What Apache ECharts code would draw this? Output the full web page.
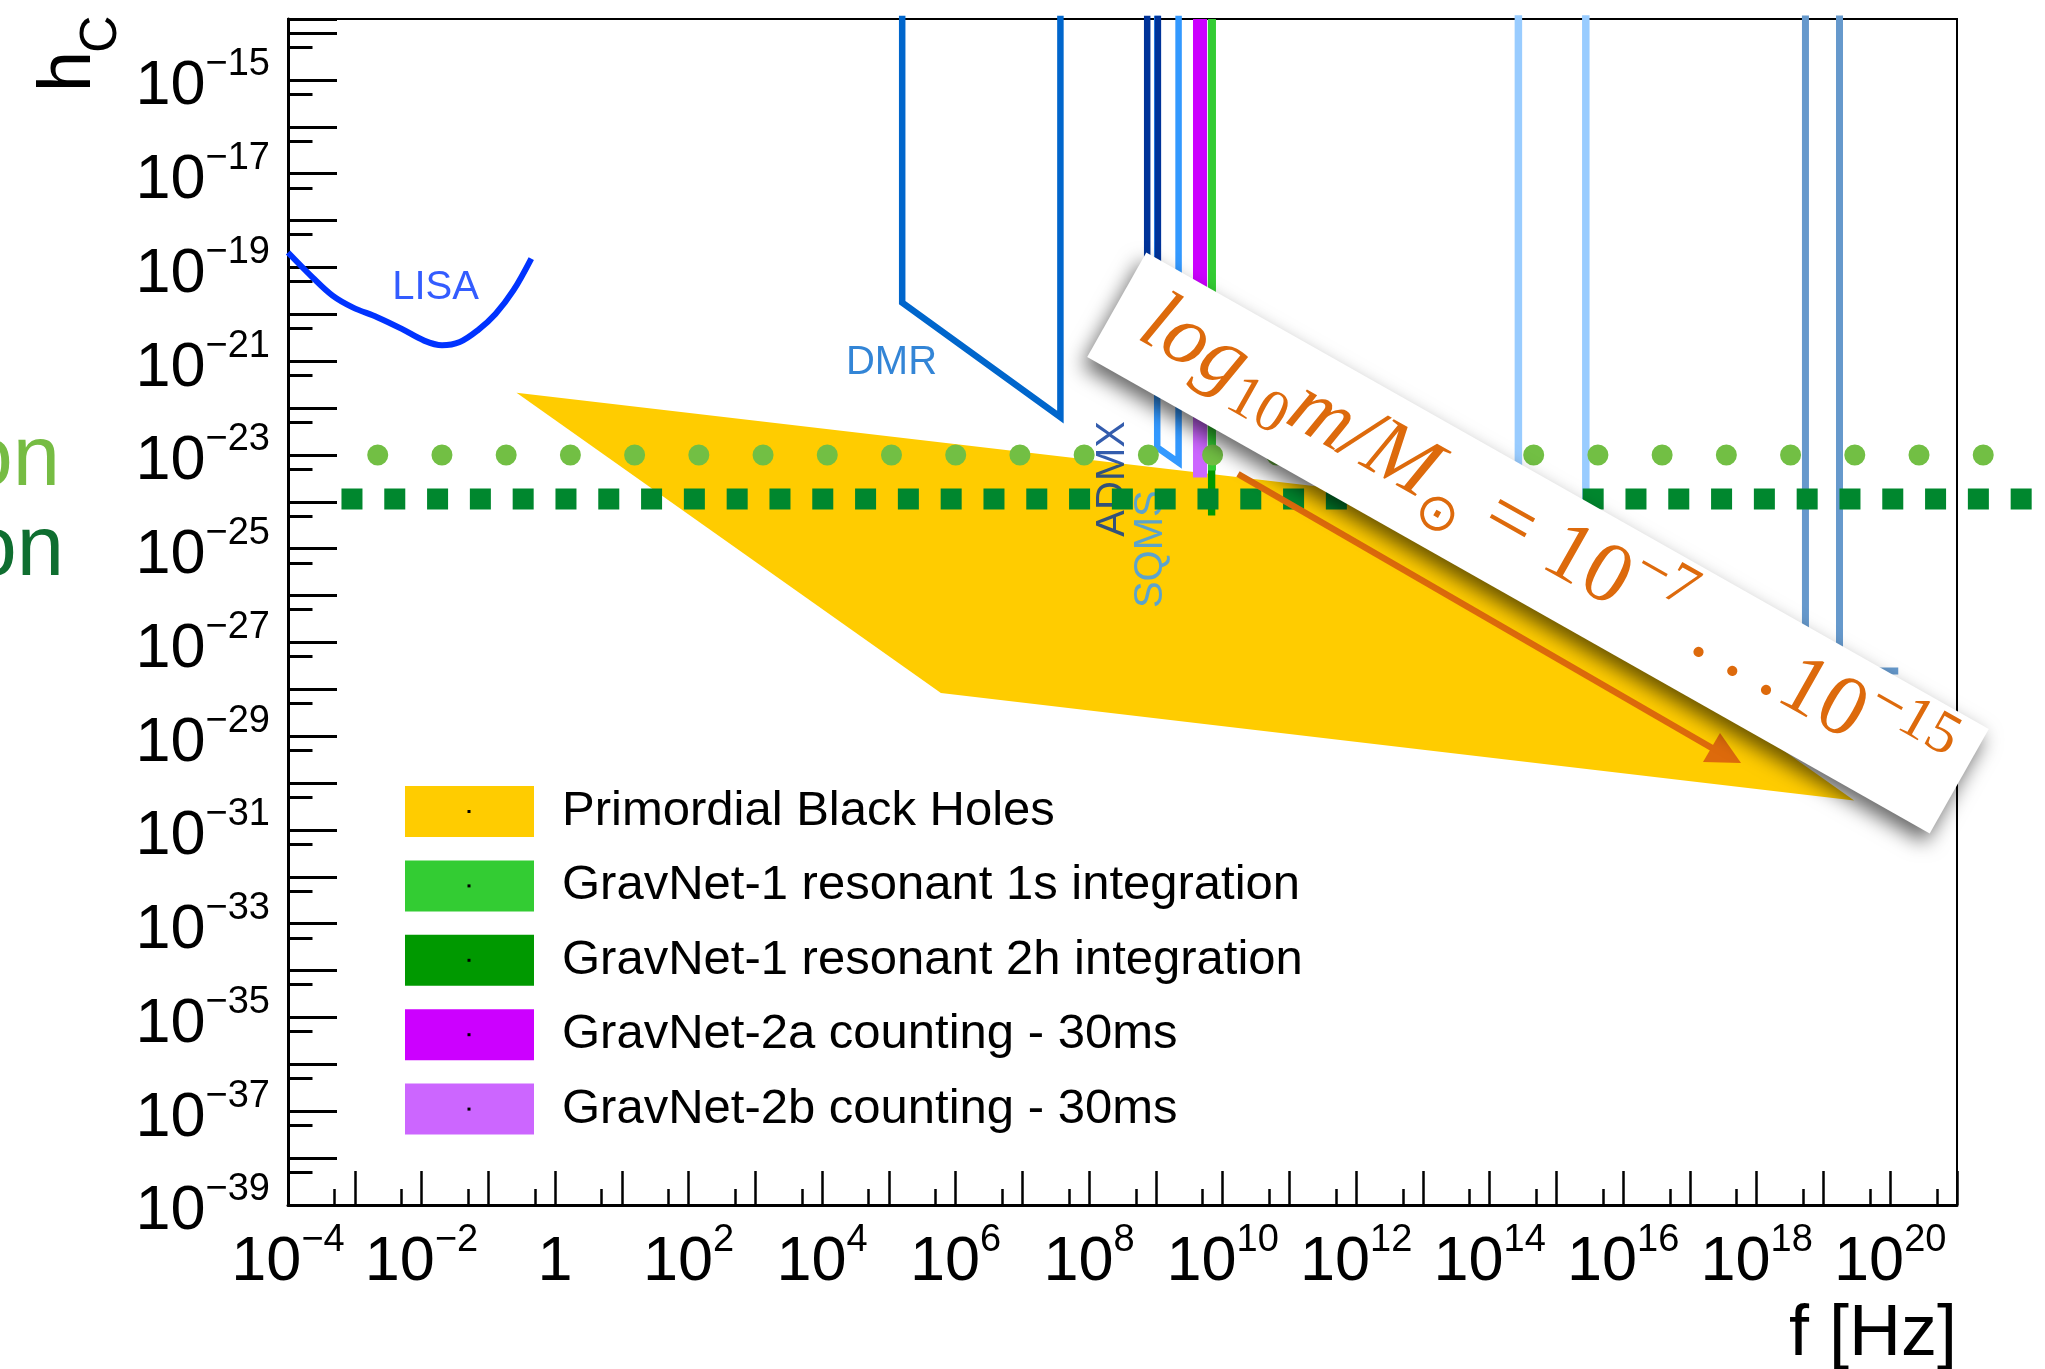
<!DOCTYPE html>
<html><head><meta charset="utf-8">
<script src="https://cdn.jsdelivr.net/npm/echarts@6/dist/echarts.min.js"></script>
<style>html,body{margin:0;padding:0;background:#fff}#c{width:2045px;height:1369px}</style>
</head><body><div id="c"></div>
<script>
// ---------- data (all values are log10 of the quantity) ----------
const xLog10Min = -4, xLog10Max = 21;                 // f [Hz]: 1e-4 .. 1e21
const yLog10Min = -39, yLog10Max = Math.log10(2e-14);  // h_c: 1e-39 .. 2e-14
const xTickLabelExponents = [-4,-2,0,2,4,6,8,10,12,14,16,18,20];
const yTickLabelExponents = [-39,-37,-35,-33,-31,-29,-27,-25,-23,-21,-19,-17,-15];

// LISA sensitivity curve
const lisaLog10F = [-4.0,-3.633,-3.332,-3.031,-2.664,-2.295,-1.961,-1.693,-1.427,-1.158,-0.892,-0.624,-0.356];
const lisaLog10H = [-18.68,-19.21,-19.60,-19.85,-20.06,-20.31,-20.56,-20.66,-20.59,-20.34,-19.99,-19.49,-18.81];
// DMR outline
const dmrLog10F = [5.20, 5.20, 7.57, 7.57];
const dmrLog10H = [-13.4, -19.75, -22.19, -13.4];
// SQMS outline
const sqmsLog10F = [9.02, 9.02, 9.34, 9.34];
const sqmsLog10H = [-13.4, -22.84, -23.16, -13.4];
// ADMX outline
const admxLog10F = [8.87, 8.87, 9.03, 9.03];
const admxLog10H = [-13.4, -20.8, -21.0, -13.4];
// light-blue outline (high frequency)
const lbLog10F = [14.43, 14.43, 15.44, 15.44];
const lbLog10H = [-13.4, -25.3, -25.3, -13.4];
// steel-blue outlines (very high frequency)
const sbLog10F = [18.73, 18.73, 20.12];
const sbLog10H = [-13.4, -27.61, -27.61];
const sb2Log10F = [19.24, 19.24];
const sb2Log10H = [-13.4, -27.61];
// Primordial black holes region
const pbhLog10F = [-0.577, 13.09, 19.46, 5.78];
const pbhLog10H = [-21.67, -23.95, -30.37, -28.08];
// GravNet bands: [fLow, fHigh, hBottom]
const gn1sBand = [9.78, 9.90, -23.33];
const gn2hBand = [9.78, 9.89, -24.29];
const gn2aBand = [9.556, 9.766, -22.0];
const gn2bBand = [9.556, 9.766, -23.48];
// horizontal sensitivity lines
const gn1sLineLog10F = [-2.656, 21.5];
const gn1sLineLog10H = [-23.0, -23.0];
const gn2hLineLog10F = [-3.199, 22.12];
const gn2hLineLog10H = [-23.94, -23.94];
// detector labels
const detLabels = ['LISA', 'DMR', 'ADMX', 'SQMS'];
const detLabelLog10F = [-1.79, 5.04, 8.36, 8.93];
const detLabelLog10H = [-19.43, -21.04, -23.51, -25.01];

const legendNames = ['Primordial Black Holes','GravNet-1 resonant 1s integration','GravNet-1 resonant 2h integration','GravNet-2a counting - 30ms','GravNet-2b counting - 30ms'];

// ---------- chart ----------
const FONT = 'Liberation Sans';
const chart = echarts.init(document.getElementById('c'), null, {renderer: 'canvas', width: 2045, height: 1369});

const rich = {
  b: {fontFamily: FONT, fontSize: 63, lineHeight: 63, padding: [14,0,0,0], verticalAlign: 'middle', color: '#000'},
  s: {fontFamily: FONT, fontSize: 38, lineHeight: 38, padding: [0,0,30,0], verticalAlign: 'middle', color: '#000'}
};
function powLabel(v, list) {
  const n = Math.round(v);
  if (Math.abs(v - n) > 1e-6 || list.indexOf(n) < 0) return '';
  if (n === 0) return '{b|1}';
  return '{b|10}{s|' + (n < 0 ? '\u2212' : '') + Math.abs(n) + '}';
}

function outline(name, fx, hy, color, width, z) {
  return {type: 'line', name: name, data: fx.map((f, i) => [f, hy[i]]), symbol: 'none', showSymbol: false,
    lineStyle: {color: color, width: width, join: 'miter'}, silent: true, z: z || 2, clip: true};
}
function band(name, b, color, z) {
  return {type: 'custom', name: name, coordinateSystem: 'cartesian2d', clip: true, silent: true, z: z,
    itemStyle: {color: color}, encode: {x: [0, 1], y: 2}, data: [b],
    renderItem: function (params, api) {
      const p1 = api.coord([api.value(0), yLog10Max]);
      const p2 = api.coord([api.value(1), api.value(2)]);
      return {type: 'rect', shape: {x: p1[0], y: p1[1], width: p2[0] - p1[0], height: p2[1] - p1[1]}, style: {fill: api.visual('color')}};
    }};
}
function sensLine(name, fx, hy, color, dash, cap) {
  return {type: 'custom', name: name, coordinateSystem: 'cartesian2d', clip: false, silent: true, z: 5,
    data: [[fx[0], hy[0]]],
    renderItem: function (params, api) {
      const pts = fx.map((f, i) => api.coord([f, hy[i]]));
      return {type: 'polyline', shape: {points: pts},
        style: {stroke: color, lineWidth: 21, lineDash: dash, lineCap: cap, fill: null}};
    }};
}

const series = [
  {type: 'custom', name: legendNames[0], coordinateSystem: 'cartesian2d', silent: true, z: 1,
   itemStyle: {color: '#ffcc00'}, data: pbhLog10F.map((f, i) => [f, pbhLog10H[i]]),
   renderItem: function (params, api) {
     if (params.dataIndex !== 0) return null;
     const pts = pbhLog10F.map((f, i) => api.coord([f, pbhLog10H[i]]));
     return {type: 'polygon', shape: {points: pts}, style: {fill: api.visual('color')}};
   }},
  Object.assign(outline('LISA', lisaLog10F, lisaLog10H, '#0033ff', 6), {smooth: 0.35}),
  outline('DMR', dmrLog10F, dmrLog10H, '#0066cc', 6.5),
  outline('SQMS', sqmsLog10F, sqmsLog10H, '#3399ff', 6.5),
  outline('ADMX', admxLog10F, admxLog10H, '#003399', 6.5),
  outline('HF1', lbLog10F, lbLog10H, '#99ccff', 7.5),
  outline('HF2', sbLog10F, sbLog10H, '#6699cc', 7),
  outline('HF3', sb2Log10F, sb2Log10H, '#6699cc', 7),
  band(legendNames[2], gn2hBand, '#009900', 3),
  band(legendNames[1], gn1sBand, '#33cc33', 3),
  band(legendNames[4], gn2bBand, '#cc66ff', 3),
  band(legendNames[3], gn2aBand, '#cc00ff', 3),
  {type: 'scatter', name: 'labels', silent: true, z: 4, symbolSize: 1, itemStyle: {color: 'rgba(0,0,0,0)'},
   data: detLabels.map((t, i) => ({value: [detLabelLog10F[i], detLabelLog10H[i]],
     label: {show: true, position: 'inside', formatter: t, fontFamily: FONT, fontSize: 40,
       color: ['#0033ff', '#0066cc', '#003399', '#3399ff'][i], rotate: (t === 'ADMX' || t === 'SQMS') ? 90 : 0}}))},
  sensLine('GravNet-1 1s line', gn1sLineLog10F, gn1sLineLog10H, '#72bf44', [0.01, 64.21], 'round'),
  sensLine('GravNet-1 2h line', gn2hLineLog10F, gn2hLineLog10H, '#00872e', [21, 21.8], 'butt')
];

const legendDots = [0,1,2,3,4].map(k => ({type: 'rect', z: 60, shape: {x: 467.5, y: 810 + k * 74.4, width: 3, height: 3}, style: {fill: '#000'}}));

const option = {
  animation: false,
  backgroundColor: '#fff',
  grid: {left: 288, top: 19, right: 88, bottom: 164, show: true, borderColor: '#000', borderWidth: 2, backgroundColor: 'transparent', containLabel: false, outerBoundsMode: 'none'},
  xAxis: [
    {type: 'value', min: xLog10Min, max: xLog10Max, interval: 1, position: 'bottom',
     axisLine: {show: true, onZero: false, lineStyle: {color: '#000', width: 3}},
     axisTick: {show: true, inside: true, length: 34, lineStyle: {color: '#000', width: 2.5}},
     splitLine: {show: false},
     axisLabel: {margin: 19, formatter: v => powLabel(v, xTickLabelExponents), rich: rich, showMinLabel: true, showMaxLabel: true}},
    {type: 'value', min: xLog10Min + Math.log10(2), max: xLog10Max + Math.log10(2), splitNumber: 25, position: 'bottom', offset: 0,
     axisLine: {show: false, onZero: false}, axisLabel: {show: false}, splitLine: {show: false},
     axisTick: {show: true, inside: true, length: 16, lineStyle: {color: '#000', width: 2.5}}}
  ],
  yAxis: [
    {type: 'value', min: yLog10Min, max: yLog10Max, interval: 1, position: 'left',
     axisLine: {show: true, onZero: false, lineStyle: {color: '#000', width: 3}},
     axisTick: {show: true, inside: true, length: 49, lineStyle: {color: '#000', width: 3}},
     splitLine: {show: false},
     axisLabel: {margin: 18, formatter: v => powLabel(v, yTickLabelExponents), rich: rich, showMinLabel: true, showMaxLabel: true}},
    {type: 'value', min: yLog10Min + Math.log10(2), max: yLog10Max + Math.log10(2), splitNumber: 25, position: 'left', offset: 0,
     axisLine: {show: false, onZero: false}, axisLabel: {show: false}, splitLine: {show: false},
     axisTick: {show: true, inside: true, length: 24.5, lineStyle: {color: '#000', width: 3}}}
  ],
  legend: {
    orient: 'vertical', left: 405, top: 786, padding: 0, itemWidth: 129, itemHeight: 51, itemGap: 23.4,
    icon: 'rect', selectedMode: false, data: legendNames,
    textStyle: {fontFamily: FONT, fontSize: 49, lineHeight: 51, color: '#000', padding: [0, 0, 0, 23]}
  },
  series: series,
  graphic: [
    // axis titles
    {type: 'text', x: 70, y: 92, rotation: Math.PI / 2, z: 60, style: {text: 'h', fontFamily: FONT, fontSize: 74, fill: '#000', align: 'left', verticalAlign: 'middle'}},
    {type: 'text', x: 102, y: 53, rotation: Math.PI / 2, z: 60, style: {text: 'C', fontFamily: FONT, fontSize: 52, fill: '#000', align: 'left', verticalAlign: 'middle'}},
    {type: 'text', x: 1957, y: 1335, z: 60, style: {text: 'f [Hz]', fontFamily: FONT, fontSize: 72, fill: '#000', align: 'right', verticalAlign: 'middle'}},
    // clipped labels at left edge
    {type: 'text', x: 60, y: 462, z: 60, style: {text: 'integration', fontFamily: FONT, fontSize: 85, fill: '#76bc43', align: 'right', verticalAlign: 'middle'}},
    {type: 'text', x: 64, y: 552, z: 60, style: {text: 'integration', fontFamily: FONT, fontSize: 85, fill: '#0f6e30', align: 'right', verticalAlign: 'middle'}},
    // arrow
    {type: 'line', z: 50, shape: {x1: 1238, y1: 474, x2: 1712, y2: 748}, style: {stroke: '#dd6a0c', lineWidth: 6.5}},
    {type: 'polygon', z: 50, shape: {points: [[1741, 763], [1703, 762], [1720, 733]]}, style: {fill: '#dd6a0c'}},
    // annotation box
    {type: 'group', x: 1538, y: 543, rotation: -29.5 * Math.PI / 180, z: 100, children: [
      {type: 'rect', z: 100, shape: {x: -484, y: -60, width: 968, height: 120},
       style: {fill: '#fff', shadowBlur: 20, shadowColor: 'rgba(0,0,0,0.6)', shadowOffsetX: -5, shadowOffsetY: 9}},
      {type: 'text', z: 101, x: 5, y: -3, style: {
        text: '{i|log}{sb|10}{i|m/M}{o|\u2299}{n| = 10}{sp|\u22127}{n| .\u2009.\u2009.10}{sp|\u221215}',
        align: 'center', verticalAlign: 'middle',
        rich: {
          i: {fontFamily: 'Liberation Serif', fontStyle: 'italic', fontSize: 86, lineHeight: 86, fill: '#dd6a0c', verticalAlign: 'middle'},
          n: {fontFamily: 'Liberation Serif', fontSize: 86, lineHeight: 86, fill: '#dd6a0c', verticalAlign: 'middle'},
          sb: {fontFamily: 'Liberation Serif', fontSize: 60, lineHeight: 60, padding: [46, 0, 0, 0], fill: '#dd6a0c', verticalAlign: 'middle'},
          sp: {fontFamily: 'Liberation Serif', fontSize: 60, lineHeight: 60, padding: [0, 0, 56, 0], fill: '#dd6a0c', verticalAlign: 'middle'},
          o: {fontFamily: 'DejaVu Sans', fontSize: 52, lineHeight: 52, padding: [60, 0, 0, 0], fill: '#dd6a0c', verticalAlign: 'middle'}
        }}}
    ]}
  ].concat(legendDots)
};
chart.setOption(option);
</script>
</body></html>
